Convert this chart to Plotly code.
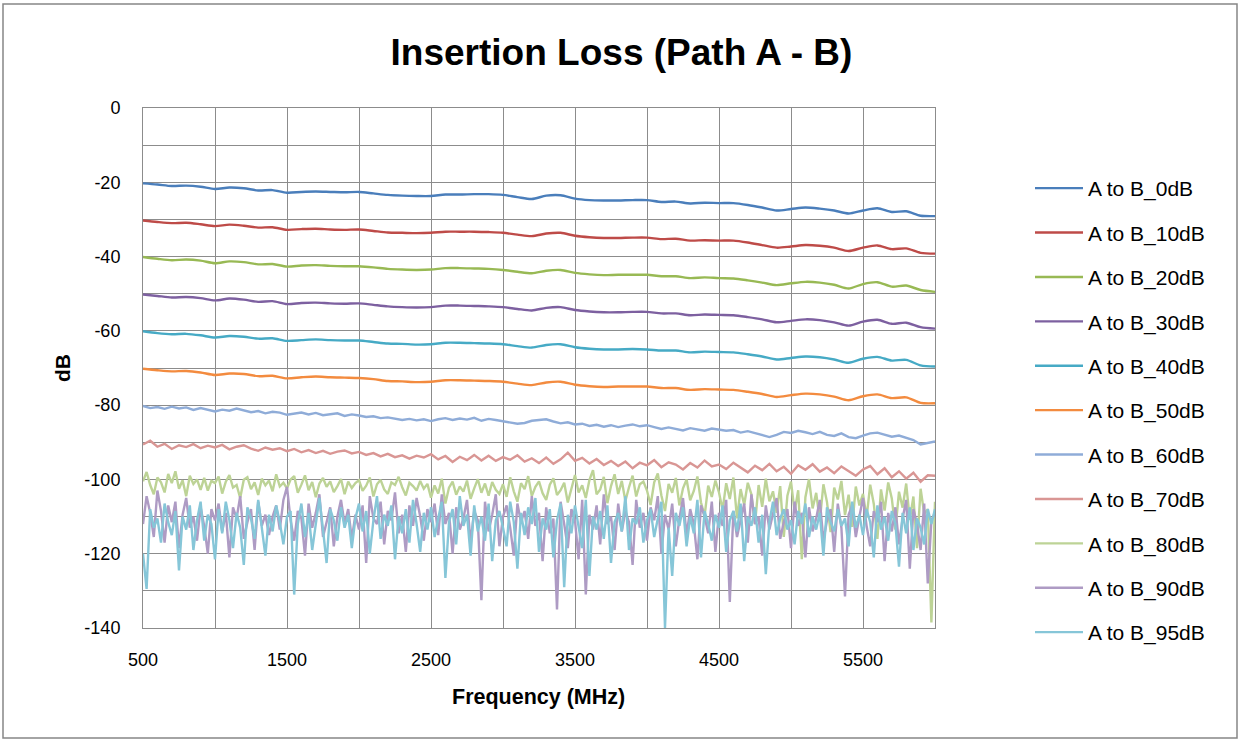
import plotly.graph_objects as go

# ---------------- data ----------------
freq_100 = list(range(500, 6001, 100))
freq_50 = list(range(500, 6001, 50))
freq_25 = list(range(500, 6001, 25))

series_names = ["A to B_0dB", "A to B_10dB", "A to B_20dB", "A to B_30dB",
                "A to B_40dB", "A to B_50dB", "A to B_60dB", "A to B_70dB",
                "A to B_80dB", "A to B_90dB", "A to B_95dB"]

ab_0db = [-20.3, -20.6, -21.0, -20.9, -21.2, -21.8, -21.4, -21.6, -22.2, -22.1,
          -22.8, -22.6, -22.5, -22.6, -22.7, -22.6, -23.0, -23.4, -23.6, -23.7,
          -23.7, -23.3, -23.3, -23.2, -23.2, -23.4, -24.0, -24.5, -23.6, -23.5,
          -24.4, -24.8, -24.9, -24.9, -24.8, -24.8, -25.3, -25.2, -25.7, -25.5,
          -25.6, -25.6, -26.1, -26.8, -27.6, -27.2, -26.8, -27.1, -27.6, -28.4,
          -27.6, -27.0, -28.0, -27.8, -29.0, -29.1]
ab_10db = [-30.3, -30.7, -31.0, -30.9, -31.3, -31.8, -31.4, -31.7, -32.2, -32.1,
           -32.8, -32.6, -32.5, -32.7, -32.8, -32.7, -33.1, -33.5, -33.6, -33.7,
           -33.6, -33.3, -33.3, -33.3, -33.4, -33.6, -34.1, -34.5, -33.8, -33.6,
           -34.4, -34.8, -35.0, -35.0, -34.9, -34.9, -35.3, -35.2, -35.7, -35.6,
           -35.7, -35.7, -36.2, -36.9, -37.6, -37.3, -36.9, -37.1, -37.6, -38.5,
           -37.6, -37.0, -38.0, -37.8, -39.0, -39.2]
ab_20db = [-40.1, -40.6, -41.0, -40.8, -41.1, -41.8, -41.3, -41.5, -42.1, -42.0,
           -42.7, -42.4, -42.3, -42.5, -42.6, -42.6, -42.9, -43.3, -43.5, -43.6,
           -43.5, -43.1, -43.1, -43.2, -43.3, -43.6, -44.1, -44.5, -43.8, -43.6,
           -44.4, -44.8, -45.0, -44.9, -44.9, -44.9, -45.3, -45.3, -45.8, -45.6,
           -45.8, -45.9, -46.4, -47.0, -47.7, -47.2, -46.8, -47.0, -47.6, -48.6,
           -47.4, -46.9, -48.1, -47.8, -49.0, -49.5]
ab_30db = [-50.2, -50.6, -51.0, -50.9, -51.2, -51.8, -51.3, -51.6, -52.2, -52.0,
           -52.8, -52.5, -52.4, -52.6, -52.7, -52.6, -53.0, -53.4, -53.6, -53.7,
           -53.6, -53.2, -53.2, -53.3, -53.4, -53.6, -54.1, -54.5, -53.8, -53.6,
           -54.4, -54.8, -55.0, -55.0, -54.9, -54.9, -55.3, -55.3, -55.8, -55.6,
           -55.7, -55.8, -56.3, -56.9, -57.7, -57.3, -56.9, -57.1, -57.7, -58.6,
           -57.5, -57.0, -58.1, -57.8, -59.0, -59.4]
ab_40db = [-60.1, -60.6, -60.9, -60.8, -61.2, -61.8, -61.4, -61.6, -62.1, -62.0,
           -62.7, -62.5, -62.3, -62.5, -62.6, -62.6, -63.0, -63.4, -63.5, -63.7,
           -63.6, -63.2, -63.2, -63.3, -63.4, -63.6, -64.1, -64.5, -63.8, -63.6,
           -64.4, -64.8, -65.0, -65.0, -64.9, -65.0, -65.3, -65.3, -65.8, -65.6,
           -65.7, -65.8, -66.3, -66.9, -67.7, -67.3, -66.9, -67.1, -67.7, -68.6,
           -67.5, -67.0, -68.0, -67.8, -69.3, -69.6]
ab_50db = [-70.2, -70.6, -70.9, -70.8, -71.2, -71.9, -71.5, -71.6, -72.2, -72.1,
           -72.8, -72.5, -72.3, -72.5, -72.6, -72.7, -73.0, -73.5, -73.6, -73.8,
           -73.7, -73.3, -73.3, -73.4, -73.5, -73.7, -74.2, -74.6, -73.9, -73.7,
           -74.5, -74.9, -75.1, -75.0, -75.0, -75.0, -75.4, -75.4, -75.9, -75.7,
           -75.8, -75.9, -76.4, -77.0, -77.8, -77.3, -76.9, -77.1, -77.7, -78.7,
           -77.6, -77.1, -78.1, -77.9, -79.4, -79.5]
ab_60db = [-80.2, -80.8, -80.5, -81.0, -80.4, -80.9, -80.6, -81.3, -80.8, -81.2,
           -81.7, -81.2, -81.5, -80.9, -81.4, -81.9, -81.6, -82.2, -81.8, -82.0,
           -82.6, -82.3, -82.0, -82.5, -82.1, -82.7, -82.4, -82.2, -82.9, -82.5,
           -82.8, -83.2, -83.0, -83.5, -83.3, -83.6, -84.0, -83.7, -84.1, -83.8,
           -84.3, -83.8, -83.5, -84.0, -83.6, -83.9, -83.4, -84.2, -83.7, -84.0,
           -84.3, -84.6, -85.0, -84.8, -84.2, -84.0, -83.8, -84.4, -84.9, -84.6,
           -85.2, -85.0, -85.6, -85.3, -85.8, -85.4, -85.9, -85.5, -85.2, -85.7,
           -85.4, -85.9, -86.4, -86.0, -86.3, -86.8, -86.2, -86.6, -86.9, -86.3,
           -86.5, -86.9, -86.7, -87.4, -87.0, -87.6, -88.2, -88.6, -88.0, -87.2,
           -87.5, -86.9, -87.3, -87.8, -87.2, -88.0, -88.3, -87.6, -88.6, -88.9,
           -88.2, -87.6, -87.4, -87.9, -88.5, -88.2, -88.8, -89.4, -90.6, -90.2,
           -89.8]
ab_70db = [-90.6, -89.6, -91.2, -90.4, -91.8, -90.8, -91.3, -90.5, -91.6, -90.9,
           -91.4, -90.7, -91.9, -91.2, -90.8, -91.7, -92.3, -91.4, -92.0, -91.6,
           -92.4, -91.8, -92.7, -92.1, -92.9, -92.3, -93.1, -92.5, -92.2, -93.0,
           -92.6, -93.4, -92.9, -93.8, -93.1, -94.0, -93.5, -94.4, -93.6, -94.1,
           -93.2, -94.6, -93.7, -95.3, -93.9, -94.8, -93.4, -94.9, -93.6, -95.0,
           -94.0, -94.7, -93.5, -95.2, -94.3, -95.6, -94.1, -95.8, -94.6, -92.8,
           -95.0, -94.2, -95.7, -94.5, -96.1, -95.0, -96.4, -95.2, -97.0, -95.5,
           -96.2, -94.8, -96.7, -95.4, -96.0, -97.3, -95.6, -96.8, -94.9, -96.5,
           -96.0, -97.2, -95.5, -96.9, -98.1, -96.3, -97.5, -95.8, -97.8, -96.6,
           -98.5, -96.2, -97.4, -95.9, -97.9, -96.8, -98.3, -96.5, -97.7, -99.0,
           -97.3, -96.4, -98.6, -97.0, -99.4, -97.8, -99.8, -98.2, -100.6, -98.9,
           -99.0]
ab_80db = [-100.5, -98.0, -101.5, -104.0, -99.5, -100.8, -103.5, -98.5, -101.0, -97.8,
           -102.5, -100.2, -104.5, -99.0, -101.2, -100.0, -102.8, -99.6, -103.0, -100.4,
           -101.0, -99.2, -103.8, -100.6, -98.8, -102.2, -101.5, -105.0, -100.1, -99.4,
           -102.6, -100.8, -104.2, -99.8, -101.6, -100.3, -103.2, -98.6, -101.9, -100.9,
           -102.4, -100.0, -99.1, -103.6, -101.4, -98.9, -102.9, -100.7, -104.8, -101.1,
           -99.6, -102.0, -100.5, -103.4, -101.8, -99.9, -104.0, -100.6, -102.3, -101.0,
           -100.2, -103.1, -101.7, -99.5, -104.6, -101.3, -100.1, -102.7, -103.9, -100.8,
           -101.5, -99.3, -102.1, -104.3, -100.9, -101.8, -103.0, -100.4, -102.5, -101.2,
           -104.9, -101.6, -103.8, -99.8, -106.5, -102.2, -100.6, -104.1, -101.9, -103.3,
           -100.3, -105.2, -102.4, -99.9, -103.6, -101.1, -104.4, -100.7, -102.8, -103.9,
           -101.3, -104.7, -99.4, -103.2, -106.0, -101.0, -102.6, -99.1, -104.5, -102.0,
           -100.5, -103.7, -105.5, -101.4, -99.7, -104.2, -102.9, -100.9, -106.2, -102.3,
           -98.8, -103.5, -101.6, -105.0, -100.2, -97.5, -104.0, -102.7, -99.3, -106.4,
           -101.8, -98.6, -103.9, -100.4, -105.8, -102.1, -99.0, -104.6, -101.3, -100.6,
           -103.0, -106.9, -100.8, -98.4, -104.3, -108.5, -101.2, -103.6, -99.6, -107.0,
           -102.4, -100.0, -105.6, -103.1, -99.2, -106.2, -109.8, -101.7, -104.7, -100.3,
           -103.5, -108.2, -101.0, -105.3, -99.5, -110.5, -102.6, -106.8, -100.9, -104.0,
           -112.0, -101.5, -107.4, -99.8, -105.9, -103.2, -109.0, -101.8, -115.5, -104.4,
           -100.6, -108.7, -102.9, -121.5, -104.8, -99.9, -107.8, -103.6, -111.2, -101.3,
           -106.1, -114.2, -102.2, -105.4, -100.4, -109.6, -104.1, -112.8, -101.9, -107.0,
           -103.9, -110.3, -101.4, -106.6, -116.0, -102.7, -108.4, -100.8, -105.1, -113.5,
           -103.3, -107.6, -101.1, -110.9, -104.6, -118.5, -102.5, -109.2, -108.0, -138.5,
           -106.0]
ab_90db = [-112.0, -104.5, -109.0, -115.5, -103.0, -108.5, -117.0, -107.0, -111.5, -106.0,
           -118.5, -109.5, -105.0, -113.0, -110.0, -116.5, -107.5, -112.5, -120.0, -108.0,
           -111.0, -106.5, -114.0, -109.0, -121.0, -107.5, -110.5, -104.5, -116.0, -111.5,
           -108.0, -119.0, -106.0, -112.5, -109.5, -115.0, -110.0, -107.0, -113.5, -105.5,
           -102.0, -111.0, -116.5, -108.5, -110.5, -120.5, -106.5, -113.0, -109.0, -104.0,
           -115.5, -111.5, -107.5, -118.0, -110.0, -105.5, -112.0, -108.0, -116.0, -109.5,
           -113.5, -107.0, -122.5, -104.5, -110.5, -112.0, -106.0, -117.5, -108.5, -111.0,
           -103.5, -114.5, -109.5, -119.5, -107.0, -112.5, -105.0, -110.0, -116.5, -108.0,
           -111.5, -106.5, -115.0, -104.0, -112.0, -109.0, -120.0, -107.5, -113.5, -110.5,
           -105.5, -117.0, -108.5, -111.0, -132.5, -106.0, -114.0, -109.5, -104.0, -118.0,
           -110.0, -107.0, -113.0, -120.5, -106.5, -111.5, -108.5, -116.0, -104.5, -112.5,
           -109.0, -122.0, -107.5, -114.5, -110.5, -135.0, -106.0, -112.0, -118.5, -108.0,
           -111.0, -121.5, -105.5, -131.0, -109.5, -113.5, -107.0, -117.5, -104.0, -112.0,
           -110.0, -119.0, -106.5, -114.0, -108.5, -111.5, -123.0, -105.5, -113.0, -109.0,
           -116.5, -107.5, -111.0, -104.5, -120.0, -109.5, -113.5, -106.5, -118.0, -110.5,
           -105.0, -115.0, -108.0, -112.0, -121.5, -107.0, -110.0, -114.5, -106.0, -119.5,
           -109.0, -112.5, -105.5, -133.0, -108.5, -115.5, -111.0, -106.5, -117.0, -104.0,
           -112.0, -110.0, -120.5, -107.0, -113.5, -109.5, -105.0, -116.0, -111.5, -108.0,
           -118.5, -106.0, -112.5, -109.0, -121.0, -107.5, -114.0, -110.5, -105.5, -116.5,
           -111.0, -108.0, -119.5, -106.5, -113.0, -131.5, -109.5, -107.0, -115.5, -110.0,
           -105.0, -112.5, -118.0, -108.5, -111.5, -106.0, -122.0, -109.0, -114.0, -107.5,
           -117.5, -110.5, -105.5, -124.0, -108.0, -112.0, -119.0, -106.5, -128.0, -111.0,
           -109.0]
ab_95db = [-120.0, -129.5, -108.0, -113.0, -110.5, -117.0, -106.5, -111.5, -115.0, -108.5,
           -124.5, -110.0, -113.5, -107.0, -119.0, -111.0, -106.0, -116.5, -109.5, -112.0,
           -121.5, -108.0, -114.5, -106.0, -111.0, -118.5, -109.0, -113.0, -123.0, -107.5,
           -110.5, -116.0, -105.5, -112.5, -120.5, -109.5, -114.0, -107.0, -111.5, -117.5,
           -110.0, -108.5, -131.0, -112.0, -106.5, -115.5, -109.0, -119.0, -111.5, -105.0,
           -113.5, -122.5, -108.0, -111.0, -116.5, -107.5, -113.0, -109.5, -118.5, -110.5,
           -106.5, -114.0, -108.5, -120.0, -111.0, -104.5, -116.0, -109.5, -112.5, -107.0,
           -121.5, -110.0, -114.5, -108.0, -117.0, -105.5, -112.0, -119.5, -109.0, -113.5,
           -107.5, -115.5, -110.5, -106.0, -126.5, -111.5, -108.0, -117.5, -104.5, -112.5,
           -109.5, -120.5, -107.0, -114.0, -110.0, -116.5, -106.5, -122.0, -111.0, -108.5,
           -113.0, -118.0, -106.0, -111.5, -124.0, -109.0, -115.0, -107.5, -112.0, -105.0,
           -119.5, -110.5, -113.5, -108.0, -121.0, -111.0, -106.5, -129.0, -109.5, -114.5,
           -107.0, -112.5, -118.5, -105.5, -126.0, -110.0, -113.5, -108.5, -116.0, -107.0,
           -122.5, -111.5, -109.0, -114.0, -104.5, -119.0, -110.5, -112.0, -107.5, -117.0,
           -111.0, -108.0, -115.5, -110.5, -106.0, -140.0, -113.0, -126.0, -109.0, -112.5,
           -107.5, -118.0, -110.0, -114.5, -105.5, -121.0, -108.5, -112.0, -116.5, -109.5,
           -113.0, -107.0, -119.5, -111.0, -108.5, -114.0, -106.5, -122.0, -110.0, -112.5,
           -107.5, -117.0, -109.5, -125.5, -111.5, -106.0, -115.0, -110.5, -108.0, -113.5,
           -111.0, -117.5, -108.5, -112.0, -106.5, -115.5, -110.0, -113.5, -109.0, -120.5,
           -107.5, -111.5, -114.0, -108.0, -112.5, -110.5, -118.0, -106.0, -113.0, -109.5,
           -115.0, -108.0, -111.5, -121.0, -107.0, -113.5, -110.0, -116.5, -108.5, -112.0,
           -123.5, -109.0, -114.5, -107.5, -119.0, -110.5, -113.0, -117.5, -108.0, -112.0,
           -108.0]

x_tick_vals = [500, 1500, 2500, 3500, 4500, 5500]
y_tick_vals = [0, -20, -40, -60, -80, -100, -120, -140]

series_values = [ab_0db, ab_10db, ab_20db, ab_30db, ab_40db, ab_50db,
                 ab_60db, ab_70db, ab_80db, ab_90db, ab_95db]
series_freqs = [freq_100] * 6 + [freq_50] * 2 + [freq_25] * 3

# ---------------- styling ----------------
colors = ["#4A7EBB", "#BE4B48", "#98B954", "#7D60A0", "#46AAC5", "#F38B3F",
          "#8FACD8", "#D99694", "#BDD396", "#AE9BC4", "#86C6D8"]
smooth = [True] * 6 + [False] * 5

FONT = "Liberation Sans"
W, H = 1243, 741
L, R, T, B = 143, 935, 108, 628   # plot area in pixels
PW, PH = R - L, B - T


def px(xp):
    return (xp - L) / PW


def py(yp):
    return (B - yp) / PH


fig = go.Figure()
for i, (name, xs, ys) in enumerate(zip(series_names, series_freqs, series_values)):
    fig.add_trace(go.Scatter(
        x=xs, y=ys, name=name, mode="lines",
        line=dict(color=colors[i], width=2.4,
                  shape="spline" if smooth[i] else "linear",
                  smoothing=0.8 if smooth[i] else None),
        legendgroup=f"g{i}",
        hoverinfo="skip",
    ))

grid_col = "#8C8C8C"
fig.update_layout(
    width=W, height=H,
    margin=dict(l=L, r=W - R, t=T, b=H - B, autoexpand=False),
    paper_bgcolor="white", plot_bgcolor="white",
    font=dict(family=FONT, color="#000000", size=18),
    title=dict(text="<b>Insertion Loss (Path A - B)</b>",
               font=dict(family=FONT, size=37, color="#000000"),
               x=0.5, xref="container", xanchor="center",
               y=1 - 52 / H, yref="container", yanchor="middle"),
    showlegend=True,
    legend=dict(x=px(1030), y=py(168), xanchor="left", yanchor="top",
                traceorder="grouped", tracegroupgap=14.1,
                itemwidth=48, font=dict(family=FONT, size=21, color="#000000"),
                bgcolor="rgba(0,0,0,0)", borderwidth=0),
    xaxis=dict(range=[500, 6000], tickmode="array", tickvals=x_tick_vals,
               ticktext=[str(v) for v in x_tick_vals],
               showgrid=True, gridcolor=grid_col, gridwidth=1,
               minor=dict(tickmode="linear", tick0=500, dtick=500, showgrid=True,
                          gridcolor=grid_col, gridwidth=1),
               showline=True, linecolor=grid_col, linewidth=1, mirror=True,
               zeroline=False, ticks="", ticklabelstandoff=15,
               tickfont=dict(family=FONT, size=18, color="#000000")),
    yaxis=dict(range=[-140, 0], tickmode="array", tickvals=y_tick_vals,
               ticktext=[str(v) for v in y_tick_vals],
               showgrid=True, gridcolor=grid_col, gridwidth=1,
               minor=dict(tickmode="linear", tick0=0, dtick=10, showgrid=True,
                          gridcolor=grid_col, gridwidth=1),
               showline=True, linecolor=grid_col, linewidth=1, mirror=True,
               zeroline=False, ticks="", ticklabelstandoff=18,
               tickfont=dict(family=FONT, size=18, color="#000000")),
    annotations=[
        dict(text="<b>dB</b>", x=px(62), y=0.5, xref="paper", yref="paper",
             textangle=-90, showarrow=False, xanchor="center", yanchor="middle",
             font=dict(family=FONT, size=21, color="#000000")),
        dict(text="<b>Frequency (MHz)</b>", x=px(538), y=py(697), xref="paper",
             yref="paper", showarrow=False, xanchor="center", yanchor="middle",
             font=dict(family=FONT, size=21.5, color="#000000")),
    ],
    shapes=[
        dict(type="rect", xref="paper", yref="paper",
             x0=px(3), x1=px(1237), y0=py(738), y1=py(4),
             line=dict(color="#868686", width=1.5), fillcolor="rgba(0,0,0,0)",
             layer="below"),
    ],
)

# remove the browser's default 8px body margin so the figure sits at the page origin
fig.write_html("out.html",
               config={"displayModeBar": False},
               post_script="document.body.style.margin='0';"
                           "document.body.style.overflow='hidden';")
